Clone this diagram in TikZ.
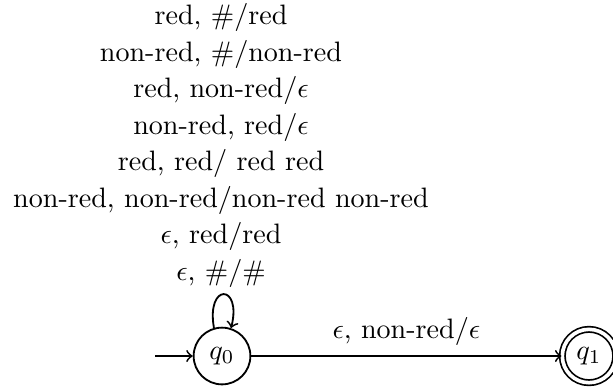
\documentclass[tikz,border=0pt]{standalone}
\usetikzlibrary{arrows}
\begin{document}
\begin{tikzpicture}[x=0.356pt,y=-0.356pt,
  statecirc/.style={circle,draw,line width=0.65pt,minimum size=20.2pt,inner sep=0pt},
  accstate/.style={circle,draw,line width=0.6pt,double,double distance=1.3pt,minimum size=19pt,inner sep=0pt},
  conn/.style={->,line width=0.65pt},
  lbl/.style={align=center,inner sep=0pt,font=\fontsize{10}{13}\selectfont}]
\useasboundingbox (0,0) rectangle (613,387);
\node[statecirc] (q0) at (222,356) {$q_0$};
\node[accstate] (q1) at (589,356) {$q_1$};
\coordinate (init) at (155,356);
\draw[conn] (init) -- (q0);
\draw[conn] (q0) -- node[above,inner sep=3.5pt] (elbl) {$\epsilon$, non-red$/\epsilon$} (q1);
\draw[conn] (q0.106) .. controls +(-100:46) and +(-76:46) .. (q0.72);
\node[lbl,anchor=south] (loopl) at (221,288) {red, $\#/$red\\
non-red, $\#/$non-red\\
red, non-red$/\epsilon$\\
non-red, red$/\epsilon$\\
red, red$/$ red red\\
non-red, non-red$/$non-red non-red\\
$\epsilon$, red$/$red\\
$\epsilon$, $\#/\#$};
\end{tikzpicture}
\end{document}
